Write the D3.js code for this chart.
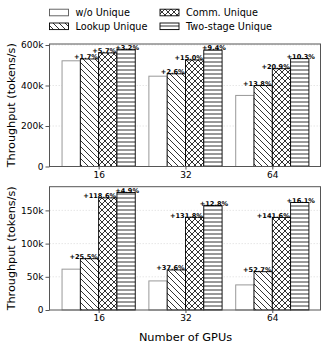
<!DOCTYPE html>
<html><head><meta charset="utf-8">
<script src="https://cdn.jsdelivr.net/npm/d3@7"></script>
<style>body{margin:0;background:#fff}svg{display:block}text{font-family:"DejaVu Sans",sans-serif}</style>
</head><body><svg id="c" width="325" height="347"></svg>
<script>
const categories = ["16", "32", "64"];
const seriesNames = ["w/o Unique", "Lookup Unique", "Comm. Unique", "Two-stage Unique"];
// top panel (k tokens/s)
const topWo = [522, 446, 351];
const topLookup = [531, 457.6, 399.5];
const topComm = [561, 526, 483];
const topTwo = [579, 575.5, 532.5];
const topLabels = [["+1.7%", "+5.7%", "+3.2%"], ["+2.6%", "+15.0%", "+9.4%"], ["+13.8%", "+20.9%", "+10.3%"]];
// bottom panel (k tokens/s)
const botWo = [61.5, 43.8, 37.8];
const botLookup = [77.2, 60.3, 57.7];
const botComm = [168.8, 139.7, 139.5];
const botTwo = [177.0, 157.6, 162.0];
const botLabels = [["+25.5%", "+118.6%", "+4.9%"], ["+37.6%", "+131.8%", "+12.8%"], ["+52.7%", "+141.6%", "+16.1%"]];
const topTicks = [0, 200, 400, 600];
const botTicks = [0, 50, 100, 150];

const svg = d3.select("#c");
const defs = svg.append("defs");
function pat(id, w, h, draw) {
  const p = defs.append("pattern").attr("id", id).attr("patternUnits", "userSpaceOnUse").attr("width", w).attr("height", h);
  p.append("rect").attr("width", w).attr("height", h).attr("fill", "#fff");
  draw(p);
}
pat("hDiag", 6, 6, p => {
  p.append("path").attr("d", "M0,0L6,6M-3,3L3,9M3,-3L9,3").attr("stroke", "#000").attr("stroke-width", 0.8);
});
pat("hCross", 6, 6, p => {
  p.append("path").attr("d", "M0,0L6,6M-3,3L3,9M3,-3L9,3M0,6L6,0M-3,3L3,-3M3,9L9,3").attr("stroke", "#000").attr("stroke-width", 0.8);
});
pat("hHoriz", 6, 4, p => {
  p.append("path").attr("d", "M0,2L6,2").attr("stroke", "#000").attr("stroke-width", 0.8);
});
const fills = ["#fff", "url(#hDiag)", "url(#hCross)", "url(#hHoriz)"];
const strokes = ["#999", "#000", "#000", "#000"];

const L = 49.5, R = 320.5;
const x0 = d3.scaleLinear().domain([-0.566, 2.555]).range([L, R]);
const groupStep = x0(1) - x0(0);
const bw = 18.3;
const x1 = d3.scaleBand().domain(d3.range(4)).range([-2 * bw, 2 * bw]).padding(0);

function panel(series, labels, ymax, top, bottom, ticks, fmt) {
  const y = d3.scaleLinear().domain([0, ymax]).range([bottom, top]);
  const g = svg.append("g");
  // grid
  g.selectAll(".grid").data(ticks.slice(1)).join("line")
    .attr("x1", L).attr("x2", R).attr("y1", d => y(d)).attr("y2", d => y(d))
    .attr("stroke", "#ddd").attr("stroke-width", 0.7).attr("stroke-dasharray", "1.5,1.5");
  // bars
  categories.forEach((c, ci) => {
    series.forEach((s, si) => {
      const bx = x0(ci) + x1(si);
      g.append("rect").attr("x", bx).attr("y", y(s[ci])).attr("width", bw).attr("height", y(0) - y(s[ci]))
        .attr("fill", fills[si]).attr("stroke", strokes[si]).attr("stroke-width", si === 0 ? 1 : 0.9);
    });
  });
  // labels
  categories.forEach((c, ci) => {
    for (let k = 0; k < 3; k++) {
      const si = k + 1;
      const bx = x0(ci) + x1(si);
      const t = g.append("text").attr("y", y(series[si][ci]) + 0.5)
        .attr("font-size", 6.6).attr("font-weight", "bold").attr("fill", "#000").text(labels[ci][k]);
      if (si < 3) t.attr("x", bx + bw - 0.8).attr("text-anchor", "end");
      else t.attr("x", bx + bw / 2 + 1).attr("text-anchor", "middle");
    }
  });
  // frame
  g.append("rect").attr("x", L).attr("y", top).attr("width", R - L).attr("height", bottom - top)
    .attr("fill", "none").attr("stroke", "#555").attr("stroke-width", 1);
  // y axis
  const ya = d3.axisLeft(y).tickValues(ticks).tickSize(4).tickPadding(2).tickFormat(fmt);
  const yg = g.append("g").attr("transform", `translate(${L},0)`).call(ya);
  yg.select(".domain").remove();
  yg.selectAll(".tick line").attr("stroke", "#555");
  yg.selectAll(".tick text").attr("font-size", 9).attr("fill", "#000").attr("font-family", "DejaVu Sans");
  // x axis
  const xa = d3.axisBottom(x0).tickValues([0, 1, 2]).tickSize(3).tickPadding(2).tickFormat(i => categories[i]);
  const xg = g.append("g").attr("transform", `translate(0,${bottom})`).call(xa);
  xg.select(".domain").remove();
  xg.selectAll(".tick line").attr("stroke", "#555");
  xg.selectAll(".tick text").attr("font-size", 9).attr("fill", "#000").attr("font-family", "DejaVu Sans");
  // y label
  svg.append("text").attr("transform", `translate(15,${(top + bottom) / 2}) rotate(-90)`)
    .attr("text-anchor", "middle").attr("font-size", 11.2).attr("fill", "#000").text("Throughput (tokens/s)");
}

panel([topWo, topLookup, topComm, topTwo], topLabels, 605, 44, 166.5, topTicks, d => d === 0 ? "0" : d + "k");
panel([botWo, botLookup, botComm, botTwo], botLabels, 185.7, 186.7, 310, botTicks, d => d === 0 ? "0" : d + "k");

svg.append("text").attr("x", x0(1)).attr("y", 340.5).attr("text-anchor", "middle")
  .attr("font-size", 11.3).attr("fill", "#000").text("Number of GPUs");

// legend
const legPos = [[49.5, 12.5], [49.5, 26.3], [160, 12.5], [160, 26.3]];
seriesNames.forEach((n, i) => {
  const [lx, ly] = legPos[i];
  svg.append("rect").attr("x", lx).attr("y", ly - 3.3).attr("width", 19).attr("height", 6.6)
    .attr("fill", fills[i]).attr("stroke", i === 0 ? "#555" : "#000").attr("stroke-width", 0.9);
  svg.append("text").attr("x", lx + 26).attr("y", ly + 3.4).attr("font-size", 9.7).attr("fill", "#000").text(n);
});
</script></body></html>
